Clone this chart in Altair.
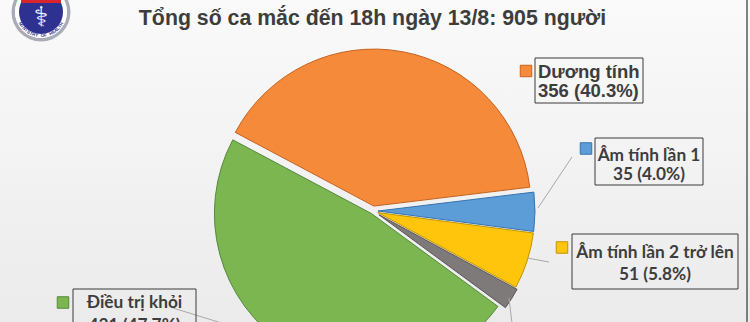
import math
import altair as alt
import pandas as pd

# ---- chart data ----
title_text = "Tổng số ca mắc đến 18h ngày 13/8: 905 người"
labels = ["Dương tính", "Âm tính lần 1", "Âm tính lần 2 trở lên", "Tử vong", "Điều trị khỏi"]
counts = [356, 35, 51, 20, 431]
percents = [40.3, 4.0, 5.8, 2.2, 47.7]
logo_caption = "MINISTRY OF HEALTH"

# ---- styling ----
fills = ["#F68A3B", "#5C9DD8", "#FFC40C", "#7E7A7A", "#7BB651"]
edges = ["#C6621E", "#3573B0", "#C39300", "#5A5656", "#55893A"]
explode_px = [5, 5, 5, 7, 3]
TEXT = "#3d3d3d"
W, H = 750, 322
CX, CY, R = 373, 211, 157
START = math.radians(298)

slices = pd.DataFrame({
    "label": labels,
    "count": counts,
    "pct": percents,
    "order": list(range(len(labels))),
    "fill": fills,
    "edge": edges,
    "explode": explode_px,
})

# background panel with a soft vertical gradient
bg = alt.Chart(pd.DataFrame({"k": [0]})).mark_rect(
    color=alt.Gradient(
        gradient="linear",
        stops=[alt.GradientStop(color="#fafafa", offset=0),
               alt.GradientStop(color="#ebebeb", offset=1)],
        x1=0, x2=0, y1=0, y2=1,
    )
).encode(x=alt.value(0), x2=alt.value(W), y=alt.value(0), y2=alt.value(H))

right_edge = alt.Chart(pd.DataFrame({"k": [0]})).mark_rule(
    color="#5a5a5a", strokeWidth=1.5
).encode(x=alt.value(747), y=alt.value(0), y2=alt.value(H))

# exploded pie: angles from a cumulative sum of the percentages
pie = (
    alt.Chart(slices)
    .transform_joinaggregate(total="sum(pct)")
    .transform_window(cum="sum(pct)", sort=[alt.SortField("order")], frame=[None, 0])
    .transform_calculate(
        a0=f"{START} + (datum.cum - datum.pct) / datum.total * 2 * PI",
        a1=f"{START} + datum.cum / datum.total * 2 * PI",
    )
    .transform_calculate(mid="(datum.a0 + datum.a1) / 2")
    .transform_calculate(
        cx=f"{CX} + datum.explode * sin(datum.mid)",
        cy=f"{CY} - datum.explode * cos(datum.mid)",
    )
    .mark_arc(radius=R, strokeWidth=1)
    .encode(
        theta=alt.Theta("a0:Q", scale=None, stack=False),
        theta2="a1:Q",
        x=alt.X("cx:Q", scale=None),
        y=alt.Y("cy:Q", scale=None),
        fill=alt.Fill("fill:N", scale=None),
        stroke=alt.Stroke("edge:N", scale=None),
    )
)

# label boxes placed beside the pie
shown = [0, 1, 2, 4]
notes = pd.DataFrame({
    "line1": [labels[i] for i in shown],
    "line2": [f"{counts[i]} ({percents[i]:.1f}%)" for i in shown],
    "fill": [fills[i] for i in shown],
    "edge": [edges[i] for i in shown],
    "mx": [526, 586, 562, 63],
    "my": [71, 148.5, 247.5, 302.5],
    "bx0": [535, 595, 572, 73],
    "by0": [58, 138, 234, 289],
    "bx1": [643, 703, 738, 196],
    "by1": [103, 185, 289, 342],
    "tx": [538, 649, 655, 134.5],
    "ty1": [78, 161, 258, 308],
    "ty2": [97, 180, 280, 331],
    "style": ["arial", "calibri", "calibri", "calibri"],
})

boxes = alt.Chart(notes).mark_rect(fillOpacity=0, stroke="#3a3a3a", strokeWidth=1).encode(
    x=alt.X("bx0:Q", scale=None), x2="bx1:Q",
    y=alt.Y("by0:Q", scale=None), y2="by1:Q",
)

markers = alt.Chart(notes).mark_square(size=132, opacity=1, strokeWidth=1).encode(
    x=alt.X("mx:Q", scale=None),
    y=alt.Y("my:Q", scale=None),
    fill=alt.Fill("fill:N", scale=None),
    stroke=alt.Stroke("edge:N", scale=None),
)


def text_layer(style, font, size, align, field, yfield):
    return (
        alt.Chart(notes)
        .transform_filter(alt.datum.style == style)
        .mark_text(font=font, fontSize=size, fontWeight="bold", align=align,
                   baseline="alphabetic", color=TEXT)
        .encode(x=alt.X("tx:Q", scale=None), y=alt.Y(f"{yfield}:Q", scale=None),
                text=f"{field}:N")
    )


texts = [
    text_layer("arial", "Liberation Sans", 18.5, "left", "line1", "ty1"),
    text_layer("arial", "Liberation Sans", 18.5, "left", "line2", "ty2"),
    text_layer("calibri", "Lato", 17.3, "center", "line1", "ty1"),
    text_layer("calibri", "Lato", 17.3, "center", "line2", "ty2"),
]

leaders = pd.DataFrame({
    "x": [538, 527, 509, 173],
    "y": [208, 258, 298, 308],
    "x2": [572, 549, 513, 228],
    "y2": [157, 262, 332, 325],
})
leader_lines = alt.Chart(leaders).mark_rule(color="#a8a8a8", strokeWidth=1).encode(
    x=alt.X("x:Q", scale=None), y=alt.Y("y:Q", scale=None),
    x2="x2:Q", y2="y2:Q",
)

title = alt.Chart(pd.DataFrame({"t": [title_text]})).mark_text(
    font="Liberation Sans", fontSize=21.3, fontWeight="bold", align="center",
    baseline="alphabetic", color=TEXT,
).encode(x=alt.value(372.5), y=alt.value(25), text="t:N")

# ministry emblem in the top-left corner
LX, LY = 41, 12
one = pd.DataFrame({"k": [0]})
emblem_ring = alt.Chart(one).mark_arc(
    radius=29.5, radius2=26, theta=0, theta2=2 * math.pi, color="#a9abb6"
).encode(x=alt.value(LX), y=alt.value(LY))
emblem_white = alt.Chart(one).mark_arc(
    radius=26, radius2=22, theta=0, theta2=2 * math.pi, color="#ffffff"
).encode(x=alt.value(LX), y=alt.value(LY))
emblem_disc = alt.Chart(one).mark_arc(
    radius=22, theta=0, theta2=2 * math.pi, color="#2f3190"
).encode(x=alt.value(LX), y=alt.value(LY))
emblem_red = alt.Chart(one).mark_rect(color="#d7262e").encode(
    x=alt.value(LX - 20), x2=alt.value(LX + 20), y=alt.value(0), y2=alt.value(3)
)
emblem_staff = alt.Chart(pd.DataFrame({"g": ["⚕"]})).mark_text(
    font="DejaVu Sans", fontSize=27, color="#f4f4ff", align="center", baseline="middle"
).encode(x=alt.value(LX), y=alt.value(LY + 6), text="g:N")

caption = pd.DataFrame({"ch": list(logo_caption), "i": list(range(len(logo_caption)))})
n_chars = len(logo_caption)
emblem_caption = (
    alt.Chart(caption)
    .transform_calculate(
        ang=f"(240 - datum.i * 120 / {n_chars - 1}) * PI / 180",
    )
    .transform_calculate(
        px=f"{LX} + 24 * sin(datum.ang)",
        py=f"{LY} - 24 * cos(datum.ang)",
        rot="(datum.ang * 180 / PI) - 180",
    )
    .mark_text(font="Liberation Sans", fontSize=4.5, fontWeight="bold",
               color="#2f3190", align="center", baseline="middle")
    .encode(x=alt.X("px:Q", scale=None), y=alt.Y("py:Q", scale=None),
            angle=alt.Angle("rot:Q", scale=None), text="ch:N")
)

chart = alt.layer(
    bg, right_edge, pie, leader_lines, boxes, markers, *texts, title,
    emblem_ring, emblem_white, emblem_disc, emblem_red, emblem_staff, emblem_caption,
).properties(
    width=W, height=H, padding=0, autosize="none",
).configure_view(strokeWidth=0).configure(background="#f2f2f2")

chart.save("out.html", embed_options={"renderer": "svg", "actions": False})
